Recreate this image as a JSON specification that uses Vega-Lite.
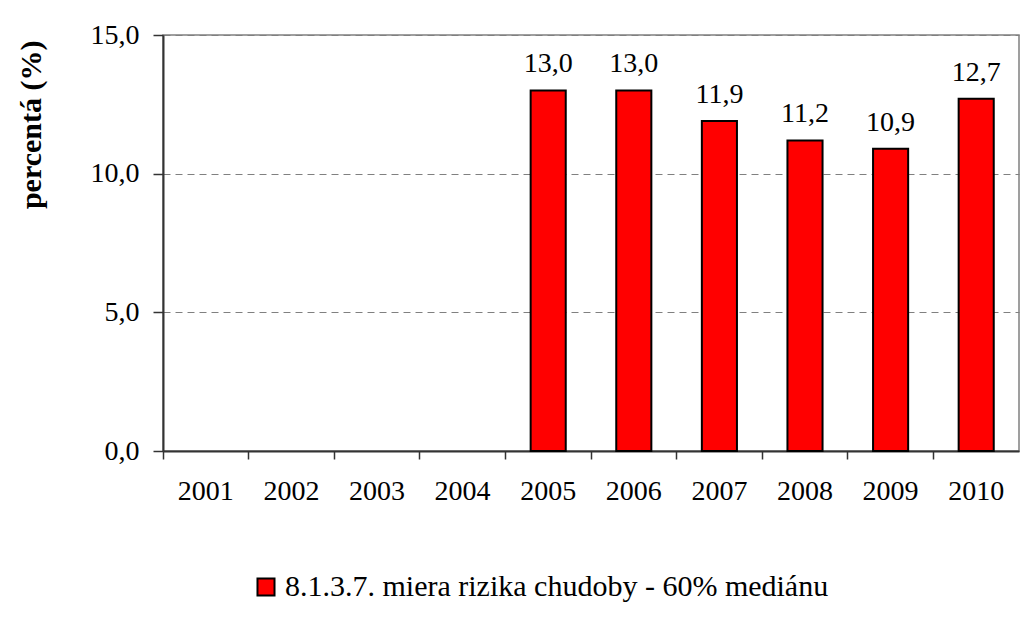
{
  "$schema": "https://vega.github.io/schema/vega-lite/v6.json",
  "width": 856,
  "height": 416,
  "autosize": "none",
  "padding": {"left": 163, "top": 35, "right": 7, "bottom": 182},
  "background": "white",
  "config": {
    "font": "Liberation Serif, Times New Roman, serif",
    "locale": {"number": {"decimal": ",", "thousands": " ", "grouping": [3], "currency": ["", " €"]}},
    "view": {"stroke": "#808080", "strokeWidth": 1.5},
    "axis": {"labelFont": "Liberation Serif, Times New Roman, serif", "titleFont": "Liberation Serif, Times New Roman, serif"},
    "legend": {"labelFont": "Liberation Serif, Times New Roman, serif"},
    "text": {"font": "Liberation Serif, Times New Roman, serif"}
  },
  "data": {
    "values": [
      {"rok": "2001", "hodnota": null, "seria": "8.1.3.7. miera rizika chudoby - 60% mediánu"},
      {"rok": "2002", "hodnota": null, "seria": "8.1.3.7. miera rizika chudoby - 60% mediánu"},
      {"rok": "2003", "hodnota": null, "seria": "8.1.3.7. miera rizika chudoby - 60% mediánu"},
      {"rok": "2004", "hodnota": null, "seria": "8.1.3.7. miera rizika chudoby - 60% mediánu"},
      {"rok": "2005", "hodnota": 13.0, "seria": "8.1.3.7. miera rizika chudoby - 60% mediánu"},
      {"rok": "2006", "hodnota": 13.0, "seria": "8.1.3.7. miera rizika chudoby - 60% mediánu"},
      {"rok": "2007", "hodnota": 11.9, "seria": "8.1.3.7. miera rizika chudoby - 60% mediánu"},
      {"rok": "2008", "hodnota": 11.2, "seria": "8.1.3.7. miera rizika chudoby - 60% mediánu"},
      {"rok": "2009", "hodnota": 10.9, "seria": "8.1.3.7. miera rizika chudoby - 60% mediánu"},
      {"rok": "2010", "hodnota": 12.7, "seria": "8.1.3.7. miera rizika chudoby - 60% mediánu"}
    ]
  },
  "encoding": {
    "x": {
      "field": "rok",
      "type": "ordinal",
      "scale": {"domain": ["2001", "2002", "2003", "2004", "2005", "2006", "2007", "2008", "2009", "2010"], "paddingInner": 0, "paddingOuter": 0},
      "axis": {
        "title": null,
        "labelAngle": 0,
        "bandPosition": 0,
        "labelFontSize": 28,
        "labelColor": "black",
        "labelPadding": 18,
        "tickSize": 8,
        "tickColor": "#333333",
        "tickWidth": 1.5,
        "domainColor": "#333333",
        "domainWidth": 2,
        "grid": false
      }
    },
    "y": {
      "field": "hodnota",
      "type": "quantitative",
      "scale": {"domain": [0, 15], "nice": false},
      "axis": {
        "title": "percentá (%)",
        "titleFontSize": 30,
        "titleFontWeight": "bold",
        "titleColor": "black",
        "titleAnchor": "end",
        "titlePadding": 44,
        "titleY": 5,
        "values": [0, 5, 10, 15],
        "format": ".1f",
        "labelFontSize": 28,
        "labelColor": "black",
        "labelPadding": 14,
        "tickSize": 10,
        "tickColor": "#333333",
        "tickWidth": 1.5,
        "domainColor": "#333333",
        "domainWidth": 2,
        "grid": true,
        "gridColor": "#808080",
        "gridDash": [7, 5],
        "gridWidth": 1
      }
    }
  },
  "layer": [
    {
      "mark": {"type": "bar", "width": {"band": 0.41}, "stroke": "black", "strokeWidth": 2},
      "encoding": {
        "color": {
          "field": "seria",
          "type": "nominal",
          "scale": {"range": ["#FF0000"]},
          "legend": {
            "title": null,
            "orient": "none",
            "legendX": 88,
            "legendY": 537,
            "symbolType": "square",
            "symbolSize": 290,
            "symbolStrokeColor": "black",
            "symbolStrokeWidth": 2,
            "labelFontSize": 30,
            "labelColor": "black",
            "labelLimit": 800
          }
        }
      }
    },
    {
      "mark": {"type": "text", "baseline": "alphabetic", "dy": -18, "fontSize": 28, "color": "black"},
      "transform": [{"filter": "datum.hodnota != null"}],
      "encoding": {
        "text": {"field": "hodnota", "type": "quantitative", "format": ".1f"}
      }
    }
  ]
}
